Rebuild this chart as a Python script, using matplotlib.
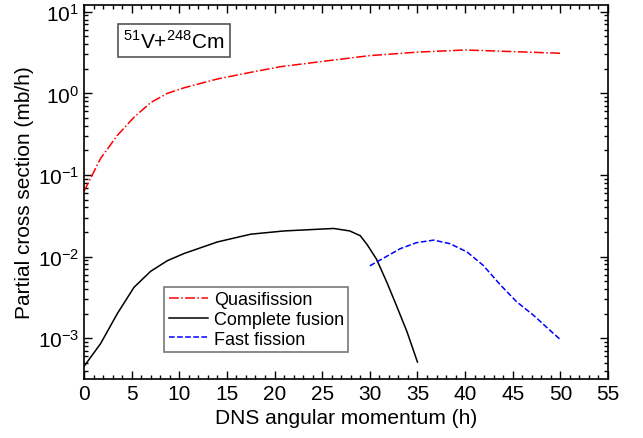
import matplotlib
matplotlib.use("Agg")
from matplotlib import pyplot as plt
from matplotlib.ticker import MultipleLocator, LogLocator, NullFormatter

plt.rcParams['font.family'] = ['Liberation Sans', 'DejaVu Sans']
plt.rcParams['mathtext.fontset'] = 'custom'
plt.rcParams['mathtext.rm'] = 'Liberation Sans'

# Quasifission
qf_l = [0, 1.75, 3.5, 5.25, 7.0, 8.75, 10.5, 14, 17.5, 20.6, 25, 30,
        35, 40, 45, 50]
qf_s = [0.063, 0.16, 0.305, 0.51, 0.77, 1.0, 1.17, 1.5, 1.81, 2.12,
        2.46, 2.9, 3.2, 3.4, 3.25, 3.1]

# Complete fusion
cf_l = [0, 1.75, 3.5, 5.25, 7.0, 8.75, 10.5, 14, 17.5, 21, 24.5, 26.2,
        27.9, 29, 29.7, 30.7, 31.8, 32.8, 33.9, 35]
cf_s = [4.5e-4, 8.6e-4, 2.0e-3, 4.2e-3, 6.6e-3, 8.9e-3, 1.09e-2, 1.51e-2,
        1.88e-2, 2.06e-2, 2.16e-2, 2.21e-2, 2.06e-2, 1.8e-2, 1.41e-2,
        9.3e-3, 4.8e-3, 2.5e-3, 1.2e-3, 5.1e-4]

# Fast fission
ff_l = [30, 33.2, 34.9, 36.7, 38.4, 40.2, 41.9, 43.7, 45.4, 47.2, 48.9, 50]
ff_s = [7.7e-3, 1.25e-2, 1.48e-2, 1.59e-2, 1.44e-2, 1.14e-2, 7.8e-3,
        4.5e-3, 2.8e-3, 1.9e-3, 1.25e-3, 9.6e-4]

fig = plt.figure(figsize=(6.43, 4.39), dpi=100)
ax = fig.add_axes([0.1306, 0.1344, 0.815, 0.8526])

ax.plot(qf_l, qf_s, color='red', linestyle='-.', lw=1.1, label='Quasifission')
ax.plot(cf_l, cf_s, color='black', linestyle='-', lw=1.1, label='Complete fusion')
ax.plot(ff_l, ff_s, color='blue', linestyle='--', lw=1.1, label='Fast fission')

ax.set_yscale('log')
ax.set_xlim(0, 55)
ax.set_ylim(3.16e-4, 12.2)
ax.xaxis.set_major_locator(MultipleLocator(5))
ax.xaxis.set_minor_locator(MultipleLocator(1))
ax.yaxis.set_major_locator(LogLocator(base=10, numticks=10))
ax.yaxis.set_minor_locator(LogLocator(base=10, subs=range(2, 10), numticks=20))
ax.yaxis.set_minor_formatter(NullFormatter())
ax.tick_params(which='both', direction='in', top=True, right=True, width=1.0)
ax.tick_params(which='major', length=6, labelsize=15)
ax.tick_params(which='minor', length=3)
for sp in ax.spines.values():
    sp.set_linewidth(1.2)

ax.set_xlabel('DNS angular momentum (h)', fontsize=15)
ax.set_ylabel('Partial cross section (mb/h)', fontsize=15, labelpad=3)

ax.text(0.074, 0.935, r'$^{51}$V+$^{248}$Cm', transform=ax.transAxes,
        fontsize=15, va='top', ha='left',
        bbox=dict(boxstyle='square,pad=0.25', fc='white', ec='#555555', lw=1.2))

leg = ax.legend(loc='lower left', bbox_to_anchor=(0.153, 0.072), fontsize=13,
                frameon=True, fancybox=False, handlelength=2.2,
                borderpad=0.25, labelspacing=0.15, handletextpad=0.3,
                borderaxespad=0)
leg.get_frame().set_edgecolor('#555555')
leg.get_frame().set_linewidth(1.2)

fig.savefig('out.png', dpi=100)
